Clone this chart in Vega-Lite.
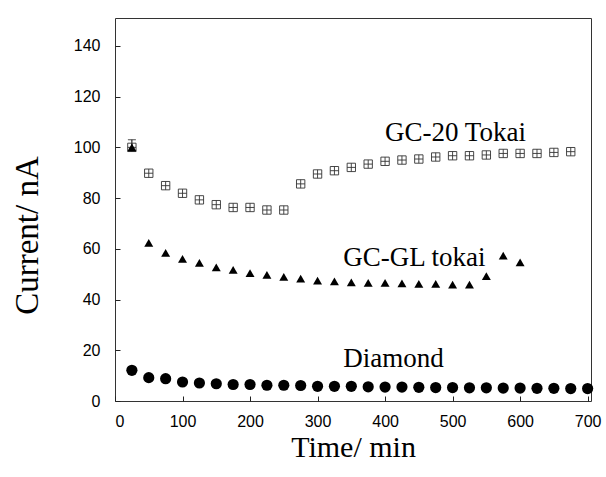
{
  "$schema": "https://vega.github.io/schema/vega-lite/v6.json",
  "width": 476,
  "height": 383,
  "autosize": "none",
  "padding": {"left": 115, "top": 18, "right": 15, "bottom": 76},
  "background": "white",
  "config": {
    "view": {"stroke": "#333", "strokeWidth": 1},
    "axis": {
      "grid": false,
      "domain": false,
      "tickSize": -5,
      "tickColor": "#222",
      "labelFont": "Liberation Sans",
      "labelFontSize": 16,
      "labelColor": "black",
      "titleFont": "Liberation Serif",
      "titleFontWeight": "normal",
      "titleColor": "black"
    }
  },
  "datasets": {
    "pts": [
      {"series": "GC-20 Tokai", "time": 25, "current": 100},
      {"series": "GC-20 Tokai", "time": 50, "current": 89.8},
      {"series": "GC-20 Tokai", "time": 75, "current": 84.9},
      {"series": "GC-20 Tokai", "time": 100, "current": 81.9},
      {"series": "GC-20 Tokai", "time": 125, "current": 79.3},
      {"series": "GC-20 Tokai", "time": 150, "current": 77.4},
      {"series": "GC-20 Tokai", "time": 175, "current": 76.3},
      {"series": "GC-20 Tokai", "time": 200, "current": 76.3},
      {"series": "GC-20 Tokai", "time": 225, "current": 75.3},
      {"series": "GC-20 Tokai", "time": 250, "current": 75.3},
      {"series": "GC-20 Tokai", "time": 275, "current": 85.6},
      {"series": "GC-20 Tokai", "time": 300, "current": 89.5},
      {"series": "GC-20 Tokai", "time": 325, "current": 90.8},
      {"series": "GC-20 Tokai", "time": 350, "current": 92.1},
      {"series": "GC-20 Tokai", "time": 375, "current": 93.4},
      {"series": "GC-20 Tokai", "time": 400, "current": 94.5},
      {"series": "GC-20 Tokai", "time": 425, "current": 95.0},
      {"series": "GC-20 Tokai", "time": 450, "current": 95.4},
      {"series": "GC-20 Tokai", "time": 475, "current": 96.2},
      {"series": "GC-20 Tokai", "time": 500, "current": 96.7},
      {"series": "GC-20 Tokai", "time": 525, "current": 96.7},
      {"series": "GC-20 Tokai", "time": 550, "current": 97.0},
      {"series": "GC-20 Tokai", "time": 575, "current": 97.6},
      {"series": "GC-20 Tokai", "time": 600, "current": 97.6},
      {"series": "GC-20 Tokai", "time": 625, "current": 97.6},
      {"series": "GC-20 Tokai", "time": 650, "current": 98.0},
      {"series": "GC-20 Tokai", "time": 675, "current": 98.3},
      {"series": "GC-GL tokai", "time": 25, "current": 100},
      {"series": "GC-GL tokai", "time": 50, "current": 62.3},
      {"series": "GC-GL tokai", "time": 75, "current": 58.4},
      {"series": "GC-GL tokai", "time": 100, "current": 56.0},
      {"series": "GC-GL tokai", "time": 125, "current": 54.5},
      {"series": "GC-GL tokai", "time": 150, "current": 52.7},
      {"series": "GC-GL tokai", "time": 175, "current": 51.7},
      {"series": "GC-GL tokai", "time": 200, "current": 50.4},
      {"series": "GC-GL tokai", "time": 225, "current": 49.7},
      {"series": "GC-GL tokai", "time": 250, "current": 48.9},
      {"series": "GC-GL tokai", "time": 275, "current": 48.2},
      {"series": "GC-GL tokai", "time": 300, "current": 47.5},
      {"series": "GC-GL tokai", "time": 325, "current": 47.2},
      {"series": "GC-GL tokai", "time": 350, "current": 46.8},
      {"series": "GC-GL tokai", "time": 375, "current": 46.6},
      {"series": "GC-GL tokai", "time": 400, "current": 46.6},
      {"series": "GC-GL tokai", "time": 425, "current": 46.4},
      {"series": "GC-GL tokai", "time": 450, "current": 46.2},
      {"series": "GC-GL tokai", "time": 475, "current": 46.2},
      {"series": "GC-GL tokai", "time": 500, "current": 45.9},
      {"series": "GC-GL tokai", "time": 525, "current": 45.9},
      {"series": "GC-GL tokai", "time": 550, "current": 49.2},
      {"series": "GC-GL tokai", "time": 575, "current": 57.3},
      {"series": "GC-GL tokai", "time": 600, "current": 54.7},
      {"series": "Diamond", "time": 25, "current": 12.1},
      {"series": "Diamond", "time": 50, "current": 9.2},
      {"series": "Diamond", "time": 75, "current": 8.8},
      {"series": "Diamond", "time": 100, "current": 7.5},
      {"series": "Diamond", "time": 125, "current": 7.1},
      {"series": "Diamond", "time": 150, "current": 6.8},
      {"series": "Diamond", "time": 175, "current": 6.5},
      {"series": "Diamond", "time": 200, "current": 6.5},
      {"series": "Diamond", "time": 225, "current": 6.2},
      {"series": "Diamond", "time": 250, "current": 6.2},
      {"series": "Diamond", "time": 275, "current": 6.1},
      {"series": "Diamond", "time": 300, "current": 5.8},
      {"series": "Diamond", "time": 325, "current": 5.8},
      {"series": "Diamond", "time": 350, "current": 5.8},
      {"series": "Diamond", "time": 375, "current": 5.6},
      {"series": "Diamond", "time": 400, "current": 5.5},
      {"series": "Diamond", "time": 425, "current": 5.5},
      {"series": "Diamond", "time": 450, "current": 5.4},
      {"series": "Diamond", "time": 475, "current": 5.3},
      {"series": "Diamond", "time": 500, "current": 5.3},
      {"series": "Diamond", "time": 525, "current": 5.2},
      {"series": "Diamond", "time": 550, "current": 5.2},
      {"series": "Diamond", "time": 575, "current": 5.1},
      {"series": "Diamond", "time": 600, "current": 5.1},
      {"series": "Diamond", "time": 625, "current": 5.0},
      {"series": "Diamond", "time": 650, "current": 5.0},
      {"series": "Diamond", "time": 675, "current": 4.9},
      {"series": "Diamond", "time": 700, "current": 4.9}
    ],
    "err": [
      {"time": 25, "lo": 98.5, "hi": 103}
    ],
    "labels": [
      {"time": 400, "current": 102.6, "text": "GC-20 Tokai"},
      {"time": 338, "current": 53.4, "text": "GC-GL tokai"},
      {"time": 338, "current": 13.4, "text": "Diamond"}
    ]
  },
  "encoding": {
    "x": {
      "field": "time", "type": "quantitative",
      "scale": {"domain": [0, 705], "nice": false},
      "axis": {"title": "Time/ min", "values": [0, 100, 200, 300, 400, 500, 600, 700], "labelPadding": 17, "titleFontSize": 30, "titleY": 55, "titleBaseline": "alphabetic"}
    },
    "y": {
      "field": "current", "type": "quantitative",
      "scale": {"domain": [0, 151], "nice": false},
      "axis": {"title": "Current/ nA", "values": [0, 20, 40, 60, 80, 100, 120, 140], "labelPadding": 20, "titleFontSize": 33, "titleX": -78, "titleY": 217, "titleBaseline": "alphabetic", "titleAlign": "center", "titleAngle": 270}
    }
  },
  "layer": [
    {
      "data": {"name": "err"},
      "mark": {"type": "errorbar", "ticks": {"size": 8, "color": "black"}, "color": "black"},
      "encoding": {
        "x": {"field": "time", "type": "quantitative"},
        "y": {"field": "lo", "type": "quantitative"},
        "y2": {"field": "hi"}
      }
    },
    {
      "data": {"name": "pts"},
      "transform": [{"filter": "datum.series === 'GC-20 Tokai'"}],
      "mark": {"type": "point", "shape": "M-1,-1H1V1H-1Z M-1,0H1 M0,-1V1", "filled": false, "stroke": "#333", "strokeWidth": 0.9, "size": 70, "opacity": 1}
    },
    {
      "data": {"name": "pts"},
      "transform": [{"filter": "datum.series === 'GC-GL tokai'"}],
      "mark": {"type": "point", "shape": "triangle-up", "filled": true, "color": "black", "size": 80, "opacity": 1}
    },
    {
      "data": {"name": "pts"},
      "transform": [{"filter": "datum.series === 'Diamond'"}],
      "mark": {"type": "point", "shape": "circle", "filled": true, "color": "black", "size": 125, "opacity": 1}
    },
    {
      "data": {"name": "labels"},
      "mark": {"type": "text", "align": "left", "baseline": "alphabetic", "font": "Liberation Serif", "fontSize": 27, "color": "black"},
      "encoding": {"text": {"field": "text"}}
    }
  ]
}
